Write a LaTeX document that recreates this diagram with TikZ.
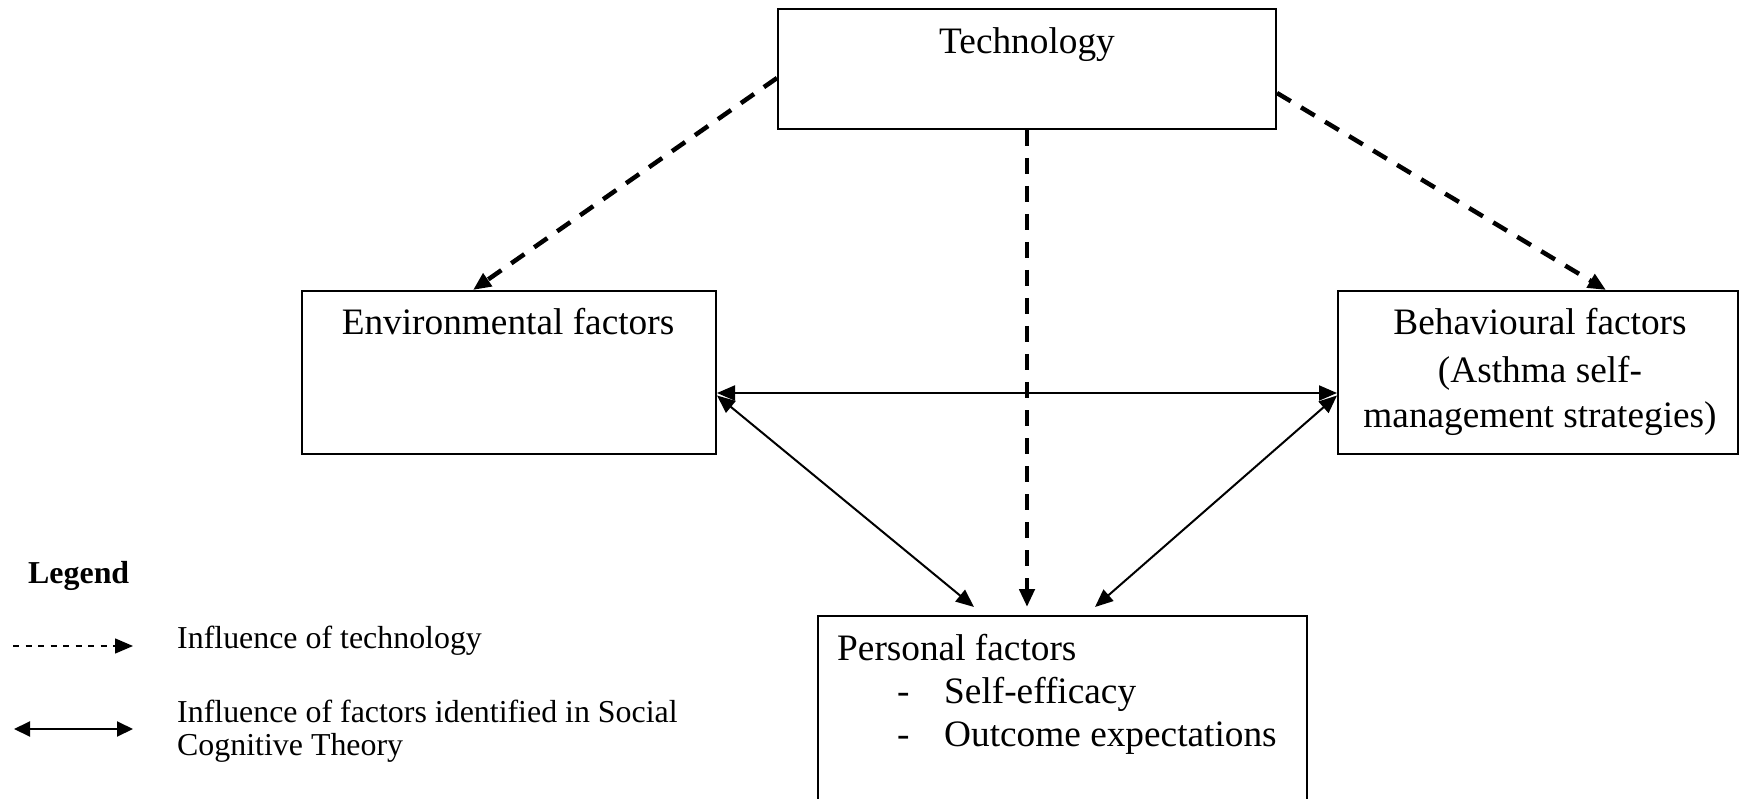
\documentclass[tikz,border=0pt]{standalone}
\usepackage{fontspec}
\setmainfont{Liberation Serif}
\usetikzlibrary{arrows.meta}
\begin{document}
\begin{tikzpicture}[x=1pt,y=-1pt,
  box/.style={draw, line width=2pt, inner sep=0pt, rectangle},
  maintext/.style={inner sep=0pt, font=\fontsize{37.3}{46}\selectfont},
  legtext/.style={inner sep=0pt, anchor=base west, font=\fontsize{31.9}{34}\selectfont},
  techarrow/.style={line width=4.5pt, dash pattern=on 16pt off 12pt,
    -{Triangle[length=18pt,width=15pt]}},
  sctarrow/.style={line width=2pt,
    {Triangle[length=18pt,width=15pt]}-{Triangle[length=18pt,width=15pt]}},
  legdash/.style={line width=1.5pt, dash pattern=on 6pt off 6.5pt,
    -{Triangle[length=18pt,width=15pt]}},
  legboth/.style={line width=2pt,
    {Triangle[length=16pt,width=15pt]}-{Triangle[length=16pt,width=15pt]}}]

% page frame
\fill[white] (0,0) rectangle (1740,799);
\useasboundingbox (0,0) rectangle (1740,799);

% boxes
\node[box, minimum width=498pt, minimum height=120pt] (tech) at (1027,69) {};
\node[box, minimum width=414pt, minimum height=163pt] (env) at (509,372.5) {};
\node[box, minimum width=400pt, minimum height=163pt] (beh) at (1538,372.5) {};
\node[box, minimum width=489pt, minimum height=200pt] (pers) at (1062.5,716) {};

% box texts
\node[maintext, anchor=base] (techlbl) at (1027,54) {Technology};
\node[maintext, anchor=base] (envlbl) at (508,335) {Environmental factors};
\node[maintext, anchor=base] (behlbl1) at (1540,335) {Behavioural factors};
\node[maintext, anchor=base] (behlbl2) at (1540,382) {(Asthma self-};
\node[maintext, anchor=base] (behlbl3) at (1540,428) {management strategies)};
\node[maintext, anchor=base west] (perslbl) at (837,660) {Personal factors};
\node[maintext, anchor=base west] (dash1) at (897,703) {-};
\node[maintext, anchor=base west] (item1) at (944,703) {Self-efficacy};
\node[maintext, anchor=base west] (dash2) at (897,746) {-};
\node[maintext, anchor=base west] (item2) at (944,746) {Outcome expectations};

% influence of technology
\draw[techarrow] ([yshift=-9pt]tech.west) -- ([xshift=-36pt]env.north);
\draw[techarrow] ([yshift=-24pt]tech.east) -- ([xshift=68pt]beh.north);
\draw[techarrow, shorten >=8pt] (tech.south) -- (tech.south |- pers.north);

% reciprocal influences (Social Cognitive Theory)
\draw[sctarrow] ([yshift=-20.5pt]env.east) -- ([yshift=-20.5pt]beh.west);
\draw[sctarrow] ([yshift=-23pt]env.east) -- ([xshift=-88.5pt,yshift=8pt]pers.north);
\draw[sctarrow] ([yshift=-23pt]beh.west) -- ([xshift=32.5pt,yshift=8pt]pers.north);

% legend
\node[inner sep=0pt, anchor=base west, font=\fontsize{31.9}{34}\selectfont\bfseries] (legtitle) at (28,583) {Legend};
\coordinate (la1) at (13,646);
\coordinate (la2) at (133,646);
\draw[legdash] (la1) -- (la2);
\node[legtext] (leg1) at (177,648) {Influence of technology};
\coordinate (lb1) at (14,729);
\coordinate (lb2) at (133,729);
\draw[legboth] (lb1) -- (lb2);
\node[legtext] (leg2a) at (177,722) {Influence of factors identified in Social};
\node[legtext] (leg2b) at (177,755) {Cognitive Theory};
\end{tikzpicture}
\end{document}
